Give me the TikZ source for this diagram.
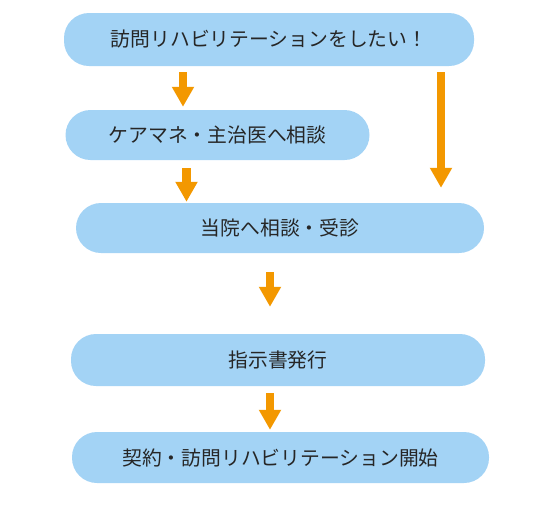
\documentclass[tikz,border=0pt]{standalone}
\usepackage{fontspec}
\setmainfont{Noto Sans CJK JP}
\usetikzlibrary{arrows.meta, positioning, calc}

\definecolor{boxblue}{HTML}{A3D3F5}
\definecolor{flowor}{HTML}{F39800}

\tikzset{
    stage/.style={fill=boxblue, rounded corners=25pt, inner sep=0pt,
        font=\fontsize{19.8}{22}\selectfont, text=black!85},
    flow/.style={draw=flowor, line width=8.5pt,
        -{Triangle[width=21pt, length=20pt]}}
}

\begin{document}
\begin{tikzpicture}[x=1pt, y=-1pt]
    \useasboundingbox (0,0) rectangle (545,512);

    % boxes
    \node[stage, minimum width=410pt, minimum height=53pt] (wish) at (269,39.5) {訪問リハビリテーションをしたい！};
    \node[stage, minimum width=304pt, minimum height=50pt] (cm) at (217.5,135) {ケアマネ・主治医へ相談};
    \node[stage, minimum width=408pt, minimum height=50pt] (consult) at (280,228) {当院へ相談・受診};
    \node[stage, minimum width=414pt, minimum height=52pt] (order) at (278,360) {指示書発行};
    \node[stage, minimum width=417pt, minimum height=51pt] (start) at (280.5,457.5) {契約・訪問リハビリテーション開始};

    % arrows
    \draw[flow, shorten <=6pt, shorten >=3pt] ([xshift=-86pt]wish.south) -- ([xshift=-86pt]wish.south |- cm.north);
    \draw[flow, shorten <=6pt, shorten >=15pt] ([xshift=172pt]wish.south) -- ([xshift=172pt]wish.south |- consult.north);
    \draw[flow, shorten <=8pt, shorten >=1pt] ([xshift=-31pt]cm.south) -- ([xshift=-31pt]cm.south |- consult.north);
    \draw[flow, shorten <=19pt, shorten >=27pt] ([xshift=-10pt]consult.south) -- ([xshift=-10pt]consult.south |- order.north);
    \draw[flow, shorten <=7pt, shorten >=2pt] ([xshift=-8pt]order.south) -- ([xshift=-8pt]order.south |- start.north);
\end{tikzpicture}
\end{document}
